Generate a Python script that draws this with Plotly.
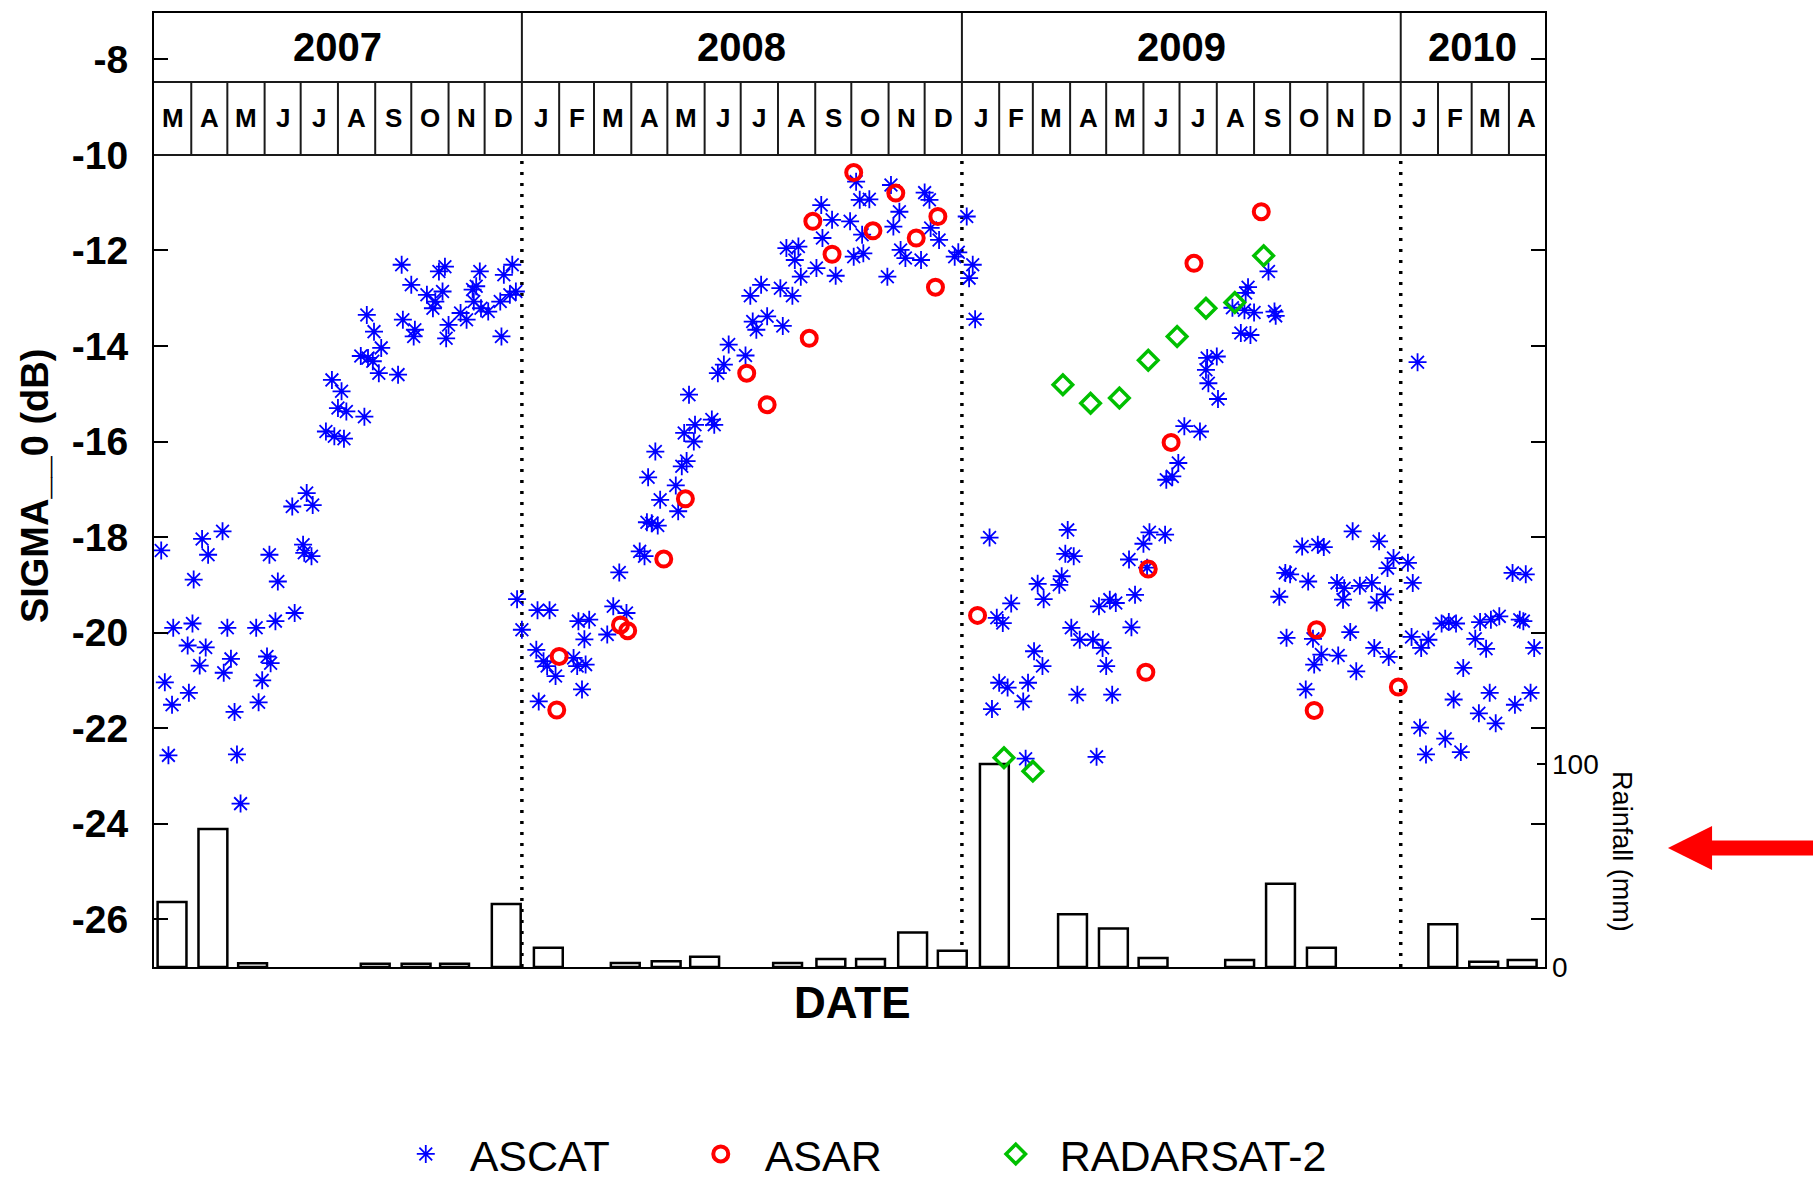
import pandas as pd
import plotly.graph_objects as go

# ---------------------------------------------------------------- data
X_START, X_END = "2007-03-01", "2010-05-01"
YEARS = [2007, 2008, 2009, 2010]
MONTH_INITIALS = ["J", "F", "M", "A", "M", "J", "J", "A", "S", "O", "N", "D"]
SIGMA_TICKS = [-26, -24, -22, -20, -18, -16, -14, -12, -10, -8]
RAIN_TICKS = [0, 100]

ascat_dates = [
    # 2007
    "2007-03-07", "2007-03-10", "2007-03-16", "2007-03-13", "2007-03-17", "2007-04-02",
    "2007-03-29", "2007-04-03", "2007-03-30", "2007-04-08", "2007-04-13", "2007-04-10",
    "2007-04-15", "2007-04-27", "2007-05-01", "2007-05-04", "2007-04-28", "2007-05-07",
    "2007-05-09", "2007-05-12", "2007-05-25", "2007-05-30", "2007-05-27", "2007-06-03",
    "2007-06-06", "2007-06-10", "2007-06-05", "2007-06-12", "2007-06-26", "2007-06-24",
    "2007-07-06", "2007-07-11", "2007-07-03", "2007-07-04", "2007-07-10", "2007-07-22",
    "2007-07-29", "2007-08-06", "2007-08-01", "2007-08-08", "2007-08-23", "2007-07-27",
    "2007-08-04", "2007-08-25", "2007-08-31", "2007-08-20", "2007-08-26", "2007-08-30",
    "2007-09-06", "2007-09-04", "2007-09-20", "2007-09-23", "2007-10-01", "2007-09-24",
    "2007-10-04", "2007-10-03", "2007-10-14", "2007-10-21", "2007-10-19", "2007-10-24",
    "2007-10-29", "2007-10-27", "2007-11-01", "2007-10-30", "2007-11-11", "2007-11-16",
    "2007-11-21", "2007-11-24", "2007-11-27", "2007-11-22", "2007-11-28", "2007-12-04",
    "2007-12-15", "2007-12-14", "2007-12-17", "2007-12-24", "2007-12-22", "2007-12-27",
    "2007-12-28",
    # 2008
    "2008-01-01", "2008-01-13", "2008-01-14", "2008-01-24", "2008-01-19", "2008-01-22",
    "2008-01-29", "2008-01-15", "2008-02-13", "2008-02-16", "2008-02-23", "2008-02-20",
    "2008-02-17", "2008-02-26", "2008-02-22", "2008-03-12", "2008-03-17", "2008-03-22",
    "2008-03-28", "2008-04-08", "2008-04-12", "2008-04-18", "2008-04-23", "2008-04-14",
    "2008-04-25", "2008-05-10", "2008-05-08", "2008-04-15", "2008-04-21", "2008-05-13",
    "2008-05-17", "2008-05-15", "2008-05-23", "2008-05-24", "2008-06-07", "2008-06-09",
    "2008-05-19", "2008-06-12", "2008-06-17", "2008-06-21", "2008-07-05", "2008-07-11",
    "2008-07-14", "2008-07-09", "2008-07-18", "2008-07-23", "2008-08-05", "2008-08-03",
    "2008-08-13", "2008-08-08", "2008-08-18", "2008-08-15", "2008-08-20", "2008-09-02",
    "2008-09-18", "2008-09-07", "2008-09-15", "2008-09-06", "2008-09-30", "2008-10-03",
    "2008-10-11", "2008-10-08", "2008-10-16", "2008-10-05", "2008-10-10", "2008-10-31",
    "2008-11-03", "2008-11-05", "2008-11-10", "2008-11-11", "2008-11-15", "2008-11-28",
    "2008-12-01", "2008-12-05", "2008-12-06", "2008-12-13", "2008-12-29", "2008-12-26",
    # 2009
    "2009-01-05", "2009-01-10", "2009-01-07", "2009-01-12", "2009-01-24", "2009-02-11",
    "2009-01-30", "2009-02-04", "2009-02-01", "2009-02-08", "2009-01-26", "2009-02-21",
    "2009-02-25", "2009-03-02", "2009-03-09", "2009-03-05", "2009-03-10", "2009-03-23",
    "2009-03-25", "2009-03-30", "2009-03-28", "2009-04-04", "2009-04-02", "2009-04-09",
    "2009-04-07", "2009-04-20", "2009-04-28", "2009-05-01", "2009-05-06", "2009-04-23",
    "2009-04-25", "2009-05-04", "2009-05-09", "2009-05-22", "2009-05-25", "2009-05-20",
    "2009-06-01", "2009-06-06", "2009-06-19", "2009-06-04", "2009-06-20", "2009-06-25",
    "2009-06-30", "2009-07-05", "2009-07-18", "2009-02-23", "2009-07-23", "2009-07-24",
    "2009-07-25", "2009-08-01", "2009-08-02", "2009-08-21", "2009-08-25", "2009-08-27",
    "2009-08-29", "2009-09-01", "2009-09-13", "2009-09-18", "2009-09-19", "2009-08-14",
    "2009-08-24",
    "2009-09-22", "2009-09-27", "2009-10-01", "2009-09-28", "2009-10-11", "2009-10-24",
    "2009-10-29", "2009-10-16", "2009-10-14", "2009-10-21", "2009-10-20", "2009-10-27",
    "2009-11-10", "2009-11-09", "2009-11-15", "2009-11-14", "2009-11-20", "2009-11-22",
    "2009-11-25", "2009-11-28", "2009-12-08", "2009-12-14", "2009-12-12", "2009-12-19",
    "2009-12-21", "2009-12-26", "2009-12-10", "2009-12-22",
    # 2010
    "2010-01-07", "2010-01-11", "2010-01-10", "2010-01-18", "2010-01-24", "2010-01-17",
    "2010-01-22", "2010-02-07", "2010-02-20", "2010-02-04", "2010-02-10", "2010-02-16",
    "2010-02-22", "2010-02-14", "2010-03-04", "2010-03-08", "2010-03-13", "2010-03-17",
    "2010-03-24", "2010-03-07", "2010-03-16", "2010-03-21", "2010-04-06", "2010-04-10",
    "2010-04-13", "2010-04-22", "2010-04-19", "2010-04-04", "2010-04-15", "2010-01-15",
]
ascat_sigma = [
    # 2007
    -18.28, -21.04, -21.51, -22.57, -19.90, -19.81,
    -20.27, -18.89, -21.26, -20.69, -20.31, -18.04,
    -18.37, -17.88, -19.90, -20.55, -20.84, -21.66,
    -22.55, -23.58, -19.90, -21.00, -21.46, -20.50,
    -20.64, -19.76, -18.37, -18.93, -19.59, -17.36,
    -17.08, -17.33, -18.16, -18.33, -18.40, -15.79,
    -15.89, -15.94, -15.30, -15.37, -15.48, -14.71,
    -14.95, -13.35, -13.70, -14.21, -14.25, -14.32,
    -14.04, -14.57, -14.60, -12.30, -12.72, -13.45,
    -13.66, -13.80, -12.93, -13.07, -13.21, -12.44,
    -12.34, -12.86, -13.56, -13.84, -13.31, -13.45,
    -12.82, -12.75, -12.44, -13.07, -13.21, -13.28,
    -13.80, -13.07, -12.51, -12.30, -12.93, -12.86,
    -19.30,
    # 2008
    -19.94, -20.36, -19.53, -19.53, -20.60, -20.70,
    -20.91, -21.44, -20.53, -20.70, -20.67, -21.19,
    -19.76, -19.73, -20.14, -20.04, -19.45, -18.74,
    -19.59, -18.30, -18.40, -17.71, -17.76, -17.69,
    -17.22, -17.46, -16.92, -16.75, -16.21, -16.52,
    -16.41, -15.82, -16.00, -15.65, -15.54, -15.65,
    -15.02, -14.57, -14.39, -13.97, -14.20, -13.49,
    -13.66, -12.95, -12.72, -13.38, -13.58, -12.79,
    -12.95, -11.95, -11.92, -12.20, -12.55, -12.37,
    -12.53, -11.74, -11.36, -11.05, -11.39, -12.13,
    -12.06, -10.94, -10.93, -10.56, -11.67, -12.55,
    -10.63, -11.50, -11.19, -11.99, -12.16, -12.20,
    -10.79, -10.94, -11.53, -11.78, -12.04, -12.13,
    # 2009
    -11.29, -12.30, -12.58, -13.44, -18.01, -19.39,
    -19.69, -19.80, -21.05, -21.15, -21.60, -21.44,
    -21.05, -20.39, -20.70, -18.98, -19.30, -19.00,
    -18.82, -17.85, -18.35, -18.40, -19.90, -20.15,
    -21.30, -20.15, -20.32, -20.70, -21.30, -22.60,
    -19.45, -19.31, -19.38, -19.89, -19.21, -18.47,
    -18.14, -17.90, -17.95, -18.64, -16.80, -16.73,
    -16.45, -15.68, -15.79, -22.64, -14.50, -14.25,
    -14.78, -14.22, -15.11, -13.73, -12.89, -12.77,
    -13.77, -13.30, -12.44, -13.28, -13.37, -13.20,
    -13.25,
    -19.25, -18.75, -18.78, -20.11, -18.20, -18.16,
    -18.21, -18.93, -21.19, -20.67, -20.13, -20.46,
    -20.48, -18.96, -19.07, -19.31, -19.99, -17.88,
    -20.81, -19.02, -18.96, -18.09, -19.37, -19.20,
    -18.65, -18.44, -20.32, -20.51,
    # 2010
    -18.54, -18.96, -20.09, -20.32, -20.15, -21.99,
    -22.55, -22.22, -22.50, -19.81, -19.78, -19.81,
    -20.74, -21.40, -20.13, -19.78, -20.34, -19.73,
    -19.66, -21.69, -21.26, -21.90, -21.51, -19.73,
    -19.76, -20.32, -21.26, -18.75, -18.78, -14.34,
]

asar_dates = [
    "2008-01-30", "2008-02-01", "2008-03-23", "2008-03-29", "2008-04-28", "2008-05-16",
    "2008-07-06", "2008-07-23", "2008-08-27", "2008-08-30", "2008-09-15", "2008-10-03",
    "2008-10-19", "2008-11-07", "2008-11-24", "2008-12-10", "2008-12-12",
    "2009-01-14", "2009-06-03", "2009-06-05", "2009-06-24", "2009-07-13", "2009-09-07",
    "2009-10-21", "2009-10-23", "2009-12-30",
]
asar_sigma = [
    -21.62, -20.50, -19.84, -19.96, -18.46, -17.20,
    -14.57, -15.23, -13.84, -11.39, -12.08, -10.37,
    -11.59, -10.80, -11.74, -12.77, -11.29,
    -19.64, -20.83, -18.67, -16.02, -12.27, -11.19,
    -21.63, -19.94, -21.14,
]

radarsat_dates = [
    "2009-02-05", "2009-03-01", "2009-03-26", "2009-04-18", "2009-05-12",
    "2009-06-05", "2009-06-29", "2009-07-23", "2009-08-16", "2009-09-09",
]
radarsat_sigma = [-22.62, -22.90, -14.81, -15.20, -15.09, -14.30, -13.80, -13.21, -13.09, -12.11]

rain_dates = [
    "2007-03-16", "2007-04-19", "2007-05-22", "2007-09-01", "2007-10-05", "2007-11-06",
    "2007-12-19", "2008-01-23", "2008-03-27", "2008-04-30", "2008-06-01", "2008-08-09",
    "2008-09-14", "2008-10-17", "2008-11-21", "2008-12-24", "2009-01-28", "2009-04-03",
    "2009-05-07", "2009-06-09", "2009-08-20", "2009-09-23", "2009-10-27", "2010-02-05",
    "2010-03-11", "2010-04-12",
]
rain_mm = [
    32, 68, 1.8, 1.6, 1.6, 1.6,
    31, 9.5, 2, 2.8, 5, 2,
    4, 4, 17, 8, 100, 26,
    19, 4.4, 3.4, 41, 9.5, 21,
    2.6, 3.4,
]

# ---------------------------------------------------------------- layout constants
SIGMA_RANGE = [-27.0, -7.03]
YEAR_ROW_BOTTOM = -8.473
MONTH_ROW_BOTTOM = -10.0
RAIN_RANGE = [0, 470]
FONT = "Liberation Sans, Arial, Helvetica, sans-serif"
DAY_MS = 86400000
NB = "\u00a0"

fig = go.Figure()

# rainfall bars on the right-hand axis (drawn first, behind the markers)
fig.add_trace(go.Bar(
    x=rain_dates, y=rain_mm, yaxis="y", width=24 * DAY_MS,
    marker=dict(color="white", line=dict(color="black", width=2.5)),
    showlegend=False, hoverinfo="x+y",
))

fig.add_trace(go.Scatter(
    x=ascat_dates, y=ascat_sigma, yaxis="y2", mode="markers", name=NB * 2 + "ASCAT",
    marker=dict(symbol="asterisk-open", size=15, color="#0000FF",
                line=dict(color="#0000FF", width=1.8)),
))
fig.add_trace(go.Scatter(
    x=asar_dates, y=asar_sigma, yaxis="y2", mode="markers", name=NB * 2 + "ASAR",
    marker=dict(symbol="circle-open", size=15, color="#FF0000",
                line=dict(color="#FF0000", width=4)),
))
fig.add_trace(go.Scatter(
    x=radarsat_dates, y=radarsat_sigma, yaxis="y2", mode="markers",
    name=NB * 2 + "RADARSAT-2",
    marker=dict(symbol="diamond-open", size=15, color="#00C000",
                line=dict(color="#00C000", width=3.5)),
))
# empty spacer entry so the last legend label has room to its right
fig.add_trace(go.Scatter(
    x=[None], y=[None], yaxis="y2", mode="markers", name=NB,
    marker=dict(opacity=0), hoverinfo="skip", showlegend=True,
))

# ---------------------------------------------------------------- calendar header
shapes = []
annotations = []
x0, x1 = pd.Timestamp(X_START), pd.Timestamp(X_END)
hdr_line = dict(color="#1a1a1a", width=2)

for y in (YEAR_ROW_BOTTOM, MONTH_ROW_BOTTOM):
    shapes.append(dict(type="line", xref="x", yref="y2", x0=X_START, x1=X_END,
                       y0=y, y1=y, line=hdr_line, layer="above"))

month_starts = pd.date_range(x0, x1, freq="MS")
for m in month_starts:
    if x0 < m < x1:
        top = SIGMA_RANGE[1] if m.month == 1 else YEAR_ROW_BOTTOM
        shapes.append(dict(type="line", xref="x", yref="y2", x0=m, x1=m,
                           y0=MONTH_ROW_BOTTOM, y1=top, line=hdr_line, layer="above"))
for m in month_starts[:-1]:
    mid = m + (m + pd.offsets.MonthBegin(1) - m) / 2
    annotations.append(dict(
        x=mid, y=(YEAR_ROW_BOTTOM + MONTH_ROW_BOTTOM) / 2, xref="x", yref="y2",
        xanchor="center", yanchor="middle",
        text=MONTH_INITIALS[m.month - 1], showarrow=False,
        font=dict(family=FONT, size=26, color="black", weight="bold"),
    ))

for yr in YEARS:
    a = max(pd.Timestamp(f"{yr}-01-01"), x0)
    b = min(pd.Timestamp(f"{yr + 1}-01-01"), x1)
    annotations.append(dict(
        x=a + (b - a) / 2, y=(SIGMA_RANGE[1] + YEAR_ROW_BOTTOM) / 2, xref="x", yref="y2",
        xanchor="center", yanchor="middle",
        text=str(yr), showarrow=False,
        font=dict(family=FONT, size=40, color="black", weight="bold"),
    ))
    # dotted year separators below the header
    if yr > YEARS[0]:
        shapes.append(dict(type="line", xref="x", yref="y2", x0=a, x1=a,
                           y0=SIGMA_RANGE[0], y1=MONTH_ROW_BOTTOM, layer="below",
                           line=dict(color="black", width=3.5, dash="3px,8px")))

# axis titles
annotations += [
    dict(x=0.502, y=-0.037, xref="paper", yref="paper", text="DATE", showarrow=False,
         xanchor="center", yanchor="middle",
         font=dict(family=FONT, size=44, color="black", weight="bold")),
    dict(x=-0.0856, y=0.504, xref="paper", yref="paper", text="SIGMA__0 (dB)",
         showarrow=False, textangle=-90, xanchor="center", yanchor="middle",
         font=dict(family=FONT, size=38, color="black", weight="bold")),
    dict(x=1.0553, y=0.1205, xref="paper", yref="paper", text="Rainfall (mm)",
         showarrow=False, textangle=90, xanchor="center", yanchor="middle",
         font=dict(family=FONT, size=27, color="black")),
]

# red pointer arrow at the right-hand edge
shapes.append(dict(
    type="path", xref="paper", yref="paper", fillcolor="#FF0000", line=dict(width=0),
    path="M 1.0884 0.1247 L 1.1201 0.1478 L 1.1201 0.1326 L 1.21 0.1326 "
         "L 1.21 0.1169 L 1.1201 0.1169 L 1.1201 0.1017 Z",
))

fig.update_layout(
    width=1813, height=1184,
    margin=dict(l=154, r=268, t=13, b=217, autoexpand=False),
    paper_bgcolor="white", plot_bgcolor="white",
    showlegend=True,
    legend=dict(orientation="h", x=0.181, y=-0.196, xanchor="left", yanchor="middle",
                font=dict(family=FONT, size=43, color="black"),
                entrywidth=250, entrywidthmode="pixels", bgcolor="rgba(0,0,0,0)"),
    xaxis=dict(type="date", range=[X_START, X_END], showgrid=False, zeroline=False,
               showticklabels=False, ticks="", showline=True, mirror=True,
               linecolor="black", linewidth=2),
    yaxis=dict(side="right", range=RAIN_RANGE, tickvals=RAIN_TICKS, ticks="inside",
               ticklen=8, tickwidth=2, tickcolor="black", showgrid=False, zeroline=False,
               showline=False, ticklabelstandoff=6,
               tickfont=dict(family=FONT, size=28, color="black")),
    yaxis2=dict(overlaying="y", side="left", range=SIGMA_RANGE, tickvals=SIGMA_TICKS,
                ticktext=[f"-{abs(v)}" for v in SIGMA_TICKS],
                ticks="inside", ticklen=14, tickwidth=2, tickcolor="black",
                showgrid=False, zeroline=False, showline=True, mirror="ticks",
                linecolor="black", linewidth=2, ticklabelstandoff=16,
                tickfont=dict(family=FONT, size=39, color="black", weight="bold")),
    shapes=shapes,
    annotations=annotations,
)

fig.write_html("out.html")
